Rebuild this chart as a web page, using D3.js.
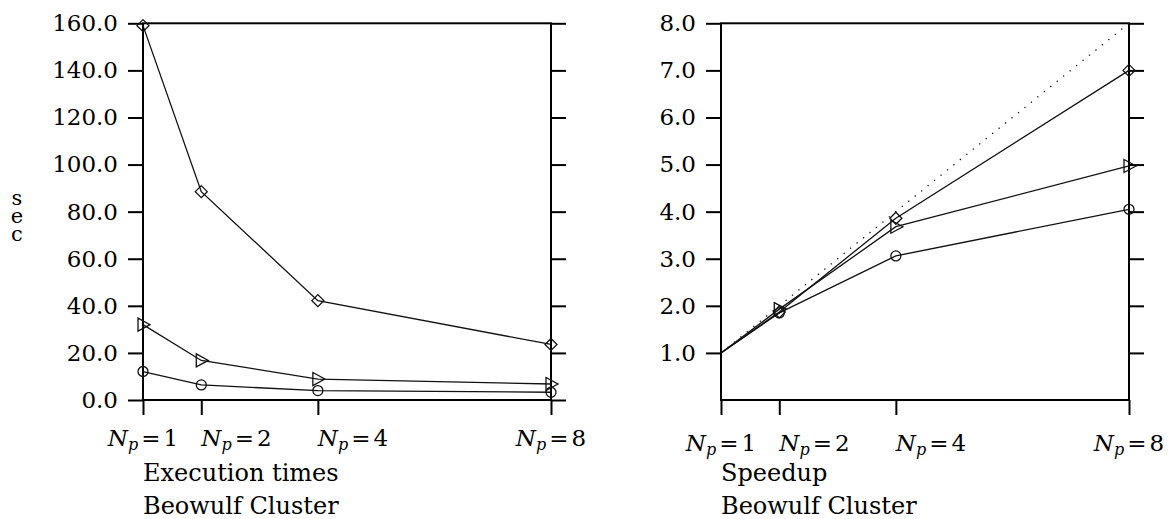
<!DOCTYPE html>
<html>
<head>
<meta charset="utf-8">
<script src="https://cdn.jsdelivr.net/npm/d3@7"></script>
<style>
    body { margin: 0; background: #fff; }
    text { font-family: "DejaVu Serif", serif; fill: #000; }
</style>
</head>
<body>
<svg id="pic" width="1169" height="519"></svg>
<script>
//number of processors on the x axis
var procs = [1, 2, 4, 8];

//execution times in seconds (left panel)
var timeDiamond = [159.0, 88.5, 42.2, 23.6];
var timeTriangle = [32.0, 16.8, 8.9, 6.8];
var timeCircle = [12.1, 6.4, 4.0, 3.3];

//speedup (right panel)
var speedDiamond = [1.0, 1.87, 3.86, 7.0];
var speedTriangle = [1.0, 1.93, 3.68, 4.97];
var speedCircle = [1.0, 1.85, 3.06, 4.05];
var idealProcs = [1, 8];
var idealSpeed = [1, 8];

//tick values
var timeTicks = [0, 20, 40, 60, 80, 100, 120, 140, 160];
var speedTicks = [1, 2, 3, 4, 5, 6, 7, 8];

var svg = d3.select("#pic");
var ink = "#111";
var serif = "DejaVu Serif";

//marker shapes
var shapes = {
    diamond: "M0,-6L6,0L0,6L-6,0Z",
    triangle: "M-5,-6.5L7,0L-5,6.5Z"
};

//draw one panel
var panel = function(opt) {
    var x = d3.scaleLinear().domain([1, 8]).range([opt.left, opt.right]);
    var y = d3.scaleLinear().domain([0, opt.ymax]).range([400, 23.3]);
    var g = svg.append("g");

    //y axis on the left with labels
    var yl = g.append("g")
        .attr("transform", "translate(" + opt.left + ",0)")
        .call(d3.axisLeft(y).tickValues(opt.ticks).tickSize(15).tickPadding(10)
            .tickFormat(d3.format(".1f")));
    //mirrored ticks on the right
    var yr = g.append("g")
        .attr("transform", "translate(" + opt.right + ",0)")
        .call(d3.axisRight(y).tickValues(opt.ticks).tickSize(15).tickFormat(""));
    //x axis ticks down
    var xb = g.append("g")
        .attr("transform", "translate(0,400)")
        .call(d3.axisBottom(x).tickValues(procs).tickSize(15).tickFormat(""));

    [yl, yr, xb].forEach(function(a) {
        a.attr("font-family", serif);
        a.select(".domain").remove();
        a.selectAll("line").attr("stroke", "#000").attr("stroke-width", 2);
    });
    yl.selectAll("text")
        .attr("font-family", serif)
        .attr("font-size", 23)
        .attr("fill", "#000");

    //N_p labels under the ticks, end ones centred, middle ones start at the tick
    var lab = g.append("g").selectAll("text")
        .data(procs)
        .enter().append("text")
        .attr("x", function(d) { return x(d); })
        .attr("y", opt.labelY)
        .attr("text-anchor", function(d, i) { return (i == 0 || i == procs.length - 1) ? "middle" : "start"; })
        .attr("font-family", serif)
        .attr("font-size", 23);
    lab.append("tspan").attr("font-style", "italic").text("N");
    lab.append("tspan").attr("font-style", "italic").attr("font-size", 16).attr("dy", 4).text("p");
    lab.append("tspan").attr("dy", -4).attr("dx", 3).text("=");
    lab.append("tspan").attr("dx", 3).text(function(d) { return d; });

    //frame
    g.append("rect")
        .attr("x", opt.left)
        .attr("y", y(opt.ymax))
        .attr("width", opt.right - opt.left)
        .attr("height", 400 - y(opt.ymax))
        .attr("fill", "none")
        .attr("stroke", "#000")
        .attr("stroke-width", 2);

    var line = d3.line()
        .x(function(d) { return x(d[0]); })
        .y(function(d) { return y(d[1]); });

    //ideal speedup dotted line
    if (opt.ideal) {
        g.append("path")
            .attr("d", line(d3.zip(idealProcs, idealSpeed)))
            .attr("fill", "none")
            .attr("stroke", ink)
            .attr("stroke-width", 1.3)
            .attr("stroke-dasharray", "1.3,7");
    }

    opt.series.forEach(function(s) {
        var pts = d3.zip(procs, s.values);
        g.append("path")
            .attr("d", line(pts))
            .attr("fill", "none")
            .attr("stroke", ink)
            .attr("stroke-width", 1.3);

        var m = g.append("g").selectAll("g")
            .data(pts.slice(opt.skipFirst ? 1 : 0))
            .enter().append("g")
            .attr("transform", function(d) { return "translate(" + x(d[0]) + "," + y(d[1]) + ")"; });
        if (s.shape == "circle") {
            m.append("circle").attr("r", 5);
        } else {
            m.append("path").attr("d", shapes[s.shape]);
        }
        m.selectAll("circle, path")
            .attr("fill", "none")
            .attr("stroke", ink)
            .attr("stroke-width", 1.3);
    });

    //captions
    g.append("text").attr("x", opt.left).attr("y", 481).attr("font-size", 24).attr("font-family", serif).text(opt.title);
    g.append("text").attr("x", opt.left).attr("y", 514).attr("font-size", 24).attr("font-family", serif).text("Beowulf Cluster");
};

panel({
    left: 143, right: 551, ymax: 160, ticks: timeTicks, labelY: 446,
    title: "Execution times", skipFirst: false,
    series: [
        { values: timeDiamond, shape: "diamond" },
        { values: timeTriangle, shape: "triangle" },
        { values: timeCircle, shape: "circle" }
    ]
});

panel({
    left: 721, right: 1129, ymax: 8, ticks: speedTicks, labelY: 451,
    title: "Speedup", ideal: true, skipFirst: true,
    series: [
        { values: speedDiamond, shape: "diamond" },
        { values: speedTriangle, shape: "triangle" },
        { values: speedCircle, shape: "circle" }
    ]
});

//vertical y label for the left panel, letters stacked upright
svg.append("text")
    .attr("x", 17)
    .attr("y", 186)
    .attr("font-family", serif)
    .attr("font-size", 21)
    .style("writing-mode", "vertical-rl")
    .style("text-orientation", "upright")
    .style("letter-spacing", "-6px")
    .text("sec");
</script>
</body>
</html>
